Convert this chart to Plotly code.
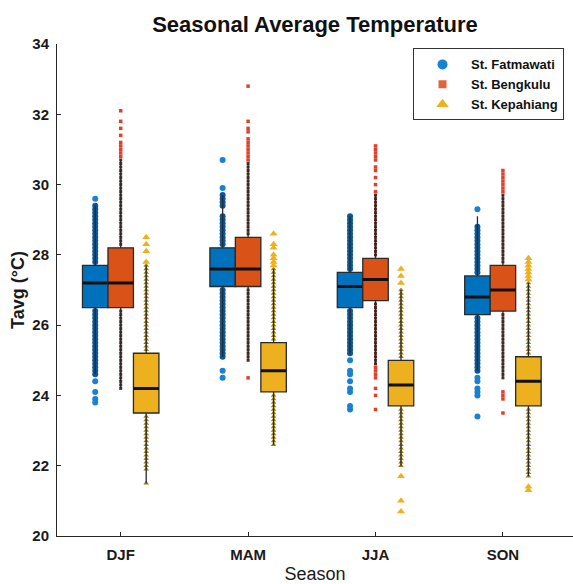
import plotly.graph_objects as go

seasons = ["DJF", "MAM", "JJA", "SON"]
stations = ["St. Fatmawati", "St. Bengkulu", "St. Kepahiang"]

# ---- St. Fatmawati ----
fat_q1 = [26.5, 27.1, 26.5, 26.3]
fat_med = [27.2, 27.6, 27.1, 26.8]
fat_q3 = [27.7, 28.2, 27.5, 27.4]
fat_lo = [24.6, 25.1, 25.2, 24.7]
fat_hi = [29.4, 29.7, 29.1, 29.1]
fat_out = [
    [29.6, 24.4, 24.1, 23.9, 23.8],
    [30.7, 29.9, 24.7, 24.5],
    [25.0, 24.7, 24.6, 24.4, 24.2, 24.1, 23.7, 23.6],
    [29.3, 24.5, 24.4, 24.2, 24.1, 24.0, 23.4],
]
fat_dense = [
    [24.6, 24.7, 24.8, 24.9, 25.0, 25.1, 25.2, 25.3, 25.4, 25.5, 25.6, 25.7, 25.8, 25.9, 26.0, 26.1, 26.2, 26.3, 26.4,
     27.8, 27.9, 28.0, 28.1, 28.2, 28.3, 28.4, 28.5, 28.6, 28.7, 28.8, 28.9, 29.0, 29.1, 29.2, 29.3, 29.4],
    [25.1, 25.2, 25.3, 25.4, 25.5, 25.6, 25.7, 25.8, 25.9, 26.0, 26.1, 26.2, 26.3, 26.4, 26.5, 26.6, 26.7, 26.8, 26.9, 27.0,
     28.3, 28.4, 28.5, 28.6, 28.7, 28.8, 28.9, 29.0, 29.1, 29.4, 29.5, 29.6, 29.7],
    [25.2, 25.3, 25.4, 25.5, 25.6, 25.7, 25.8, 25.9, 26.0, 26.1, 26.2, 26.3, 26.4,
     27.6, 27.7, 27.8, 27.9, 28.0, 28.1, 28.2, 28.3, 28.4, 28.5, 28.6, 28.7, 28.8, 28.9, 29.0, 29.1],
    [24.7, 24.8, 24.9, 25.0, 25.1, 25.2, 25.3, 25.4, 25.5, 25.6, 25.7, 25.8, 25.9, 26.0, 26.1, 26.2,
     27.5, 27.6, 27.7, 27.8, 27.9, 28.0, 28.1, 28.2, 28.3, 28.4, 28.5, 28.6, 28.7, 28.8],
]

# ---- St. Bengkulu ----
ben_q1 = [26.5, 27.1, 26.7, 26.4]
ben_med = [27.2, 27.6, 27.3, 27.0]
ben_q3 = [28.2, 28.5, 27.9, 27.7]
ben_lo = [24.2, 25.0, 24.9, 24.5]
ben_hi = [30.7, 30.6, 29.7, 29.7]
ben_out = [
    [32.1, 31.8, 31.6, 31.4, 31.2, 31.1, 31.0, 30.9, 30.8],
    [32.8, 31.8, 31.6, 31.5, 31.3, 31.2, 31.1, 31.0, 30.9, 30.8, 30.7, 24.5],
    [31.1, 31.0, 30.9, 30.8, 30.7, 30.5, 30.4, 30.2, 30.0, 29.8, 24.8, 24.7, 24.6, 24.5, 24.2, 24.0, 23.6],
    [30.4, 30.3, 30.2, 30.1, 30.0, 29.9, 29.8, 24.1, 24.0, 23.9, 23.5],
]
ben_dense = [
    [24.2, 24.3, 24.4, 24.5, 24.6, 24.7, 24.8, 24.9, 25.0, 25.1, 25.2, 25.3, 25.4, 25.5, 25.6, 25.7, 25.8, 25.9, 26.0, 26.1, 26.2, 26.3, 26.4,
     28.3, 28.4, 28.5, 28.6, 28.7, 28.8, 28.9, 29.0, 29.1, 29.2, 29.3, 29.4, 29.5, 29.6, 29.7, 29.8, 29.9, 30.0, 30.1, 30.2, 30.3, 30.4, 30.5, 30.6, 30.7],
    [25.0, 25.1, 25.2, 25.3, 25.4, 25.5, 25.6, 25.7, 25.8, 25.9, 26.0, 26.1, 26.2, 26.3, 26.4, 26.5, 26.6, 26.7, 26.8, 26.9, 27.0,
     28.6, 28.7, 28.8, 28.9, 29.0, 29.1, 29.2, 29.3, 29.4, 29.5, 29.6, 29.7, 29.8, 29.9, 30.0, 30.1, 30.2, 30.3, 30.4, 30.5, 30.6],
    [24.9, 25.0, 25.1, 25.2, 25.3, 25.4, 25.5, 25.6, 25.7, 25.8, 25.9, 26.0, 26.1, 26.2, 26.3, 26.4, 26.5, 26.6,
     28.0, 28.1, 28.2, 28.3, 28.4, 28.5, 28.6, 28.7, 28.8, 28.9, 29.0, 29.1, 29.2, 29.3, 29.4, 29.5, 29.6, 29.7],
    [24.5, 24.6, 24.7, 24.8, 24.9, 25.0, 25.1, 25.2, 25.3, 25.4, 25.5, 25.6, 25.7, 25.8, 25.9, 26.0, 26.1, 26.2, 26.3,
     27.8, 27.9, 28.0, 28.1, 28.2, 28.3, 28.4, 28.5, 28.6, 28.7, 28.8, 28.9, 29.0, 29.1, 29.2, 29.3, 29.4, 29.5, 29.6, 29.7],
]

# ---- St. Kepahiang ----
kep_q1 = [23.5, 24.1, 23.7, 23.7]
kep_med = [24.2, 24.7, 24.3, 24.4]
kep_q3 = [25.2, 25.5, 25.0, 25.1]
kep_lo = [21.5, 22.6, 22.0, 21.7]
kep_hi = [27.7, 27.6, 27.0, 27.2]
kep_out = [
    [28.5, 28.3, 28.1, 27.8],
    [28.6, 28.3, 28.2, 28.0, 27.9, 27.8, 27.7],
    [27.6, 27.4, 27.2, 21.7, 21.0, 20.7],
    [27.9, 27.8, 27.7, 27.6, 27.5, 27.4, 27.3, 21.4, 21.3],
]
kep_dense = [
    [21.5, 21.9, 22.0, 22.1, 22.2, 22.3, 22.4, 22.5, 22.6, 22.7, 22.8, 22.9, 23.0, 23.1, 23.2, 23.3, 23.4,
     25.3, 25.4, 25.5, 25.6, 25.7, 25.8, 25.9, 26.0, 26.1, 26.2, 26.3, 26.4, 26.5, 26.6, 26.7, 26.8, 26.9, 27.0, 27.1, 27.2, 27.3, 27.4, 27.5, 27.6, 27.7],
    [22.6, 22.7, 22.8, 22.9, 23.0, 23.1, 23.2, 23.3, 23.4, 23.5, 23.6, 23.7, 23.8, 23.9, 24.0,
     25.6, 25.7, 25.8, 25.9, 26.0, 26.1, 26.2, 26.3, 26.4, 26.5, 26.6, 26.7, 26.8, 26.9, 27.0, 27.1, 27.2, 27.3, 27.4, 27.5, 27.6],
    [22.0, 22.1, 22.2, 22.3, 22.4, 22.5, 22.6, 22.7, 22.8, 22.9, 23.0, 23.1, 23.2, 23.3, 23.4, 23.5, 23.6,
     25.1, 25.2, 25.3, 25.4, 25.5, 25.6, 25.7, 25.8, 25.9, 26.0, 26.1, 26.2, 26.3, 26.4, 26.5, 26.6, 26.7, 26.8, 26.9, 27.0],
    [21.7, 21.8, 21.9, 22.0, 22.1, 22.2, 22.3, 22.4, 22.5, 22.6, 22.7, 22.8, 22.9, 23.0, 23.1, 23.2, 23.3, 23.4, 23.5, 23.6,
     25.2, 25.3, 25.4, 25.5, 25.6, 25.7, 25.8, 25.9, 26.0, 26.1, 26.2, 26.3, 26.4, 26.5, 26.6, 26.7, 26.8, 26.9, 27.0, 27.1, 27.2],
]

FONT = "Liberation Sans, Arial, Helvetica, sans-serif"
EDGE = "#2a2a2a"

fig = go.Figure()


def add_station(key, name, q1, med, q3, lo, hi, dense, out, fill,
                dense_marker, out_marker, legend_marker):
    common = dict(x=seasons, q1=q1, median=med, q3=q3,
                  lowerfence=lo, upperfence=hi,
                  offsetgroup=key, alignmentgroup="all",
                  showlegend=False, whiskerwidth=0, hoverinfo="skip")
    # dense sample along the whiskers (drawn beneath the box)
    fig.add_trace(go.Box(**common, y=dense, boxpoints="all", jitter=0, pointpos=0,
                         marker=dense_marker,
                         line=dict(width=0, color="rgba(0,0,0,0)"),
                         fillcolor="rgba(0,0,0,0)"))
    # main box with outliers
    fig.add_trace(go.Box(**common, y=out, boxpoints="all", jitter=0, pointpos=0,
                         marker=out_marker,
                         line=dict(width=1.3, color=EDGE),
                         fillcolor=fill))
    # thick median line
    fig.add_trace(go.Box(x=seasons, q1=med, median=med, q3=med,
                         lowerfence=med, upperfence=med,
                         offsetgroup=key, alignmentgroup="all",
                         showlegend=False, whiskerwidth=0, hoverinfo="skip",
                         boxpoints=False,
                         line=dict(width=3, color="#111111"),
                         fillcolor="rgba(0,0,0,0)"))
    # legend entry
    fig.add_trace(go.Scatter(x=[None], y=[None], mode="markers", name=name,
                             marker=legend_marker, showlegend=True))


add_station("F", stations[0], fat_q1, fat_med, fat_q3, fat_lo, fat_hi, fat_dense, fat_out,
            "#0072BD",
            dict(symbol="circle", size=6, color="#0A5898"),
            dict(symbol="circle", size=6, color="#1A80D2"),
            dict(symbol="circle", size=10, color="#1A80D2"))
add_station("B", stations[1], ben_q1, ben_med, ben_q3, ben_lo, ben_hi, ben_dense, ben_out,
            "#D95319",
            dict(symbol="square", size=3, color="#5E2A22"),
            dict(symbol="square", size=3.5, color="#E0402A"),
            dict(symbol="square", size=8, color="#E4633A"))
add_station("K", stations[2], kep_q1, kep_med, kep_q3, kep_lo, kep_hi, kep_dense, kep_out,
            "#EDB120",
            dict(symbol="triangle-up", size=5, color="#A0800E"),
            dict(symbol="triangle-up", size=7, color="#EDB120"),
            dict(symbol="triangle-up", size=11, color="#EDB120"))

fig.update_layout(
    width=573, height=584,
    margin=dict(l=57, r=0, t=43.5, b=48),
    paper_bgcolor="white", plot_bgcolor="white",
    boxmode="group", boxgap=0.4, boxgroupgap=0,
    font=dict(family=FONT, color="#1a1a1a"),
    title=dict(text="Seasonal Average Temperature", x=0.5, xref="paper",
               y=1 - 24.5 / 584, yref="container", yanchor="middle",
               font=dict(size=22, weight="bold", family=FONT, color="#111111")),
    legend=dict(x=(413 - 57) / 516, xanchor="left", y=0.991, yanchor="top",
                bgcolor="white", bordercolor="#333333", borderwidth=1,
                font=dict(size=13, weight="bold", family=FONT, color="#111111"),
                itemsizing="trace", itemwidth=47),
    xaxis=dict(type="category", categoryorder="array", categoryarray=seasons,
               range=[-0.5, 3.55], showgrid=False, zeroline=False,
               showline=True, linecolor="#262626", linewidth=1,
               ticks="inside", ticklen=4, tickcolor="#262626",
               ticklabelstandoff=5,
               tickfont=dict(size=15, weight="bold", family=FONT, color="#1a1a1a"),
               title=dict(text="Season", standoff=15,
                          font=dict(size=18, family=FONT, color="#1a1a1a")),
               automargin=False),
    yaxis=dict(range=[20, 34], dtick=2, showgrid=False, zeroline=False,
               showline=True, linecolor="#262626", linewidth=1,
               ticks="inside", ticklen=4, tickcolor="#262626",
               ticklabelstandoff=4,
               tickfont=dict(size=15, weight="bold", family=FONT, color="#1a1a1a"),
               title=dict(text="Tavg (°C)", standoff=3,
                          font=dict(size=18, weight="bold", family=FONT, color="#1a1a1a")),
               automargin=False),
)

fig.write_html("out.html", config={"displayModeBar": False},
               post_script="document.body.style.margin='0';document.body.style.padding='0';")
